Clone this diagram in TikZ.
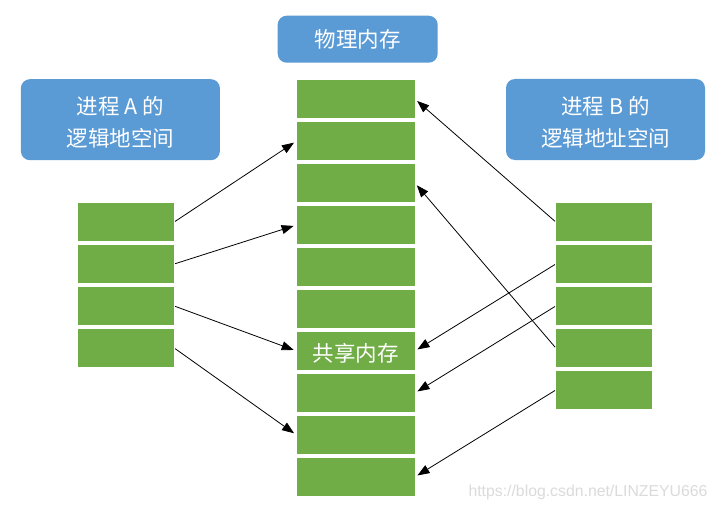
\documentclass[tikz,border=0pt]{standalone}
\usepackage{fontspec}
\newfontfamily\cjk{Noto Sans CJK SC}
\newfontfamily\wmfont{Liberation Sans}
\usetikzlibrary{arrows.meta}
\definecolor{hdrblue}{HTML}{5B9BD5}
\definecolor{cellgreen}{HTML}{70AD47}
\begin{document}
\begin{tikzpicture}[x=1pt,y=-1pt,
  hdr/.style={fill=hdrblue, rounded corners=9pt, draw=none, text=white,
    font=\cjk\fontsize{21.5}{32}\selectfont, align=center, inner sep=0pt},
  mcell/.style={fill=cellgreen, draw=none, minimum width=118pt, minimum height=38pt,
    inner sep=0pt},
  scell/.style={fill=cellgreen, draw=none, minimum width=96pt, minimum height=38pt, inner sep=0pt},
  link/.style={-{Triangle[length=12pt,width=9pt]}, line width=0.8pt, shorten >=3pt, shorten <=1pt}]
\fill[white] (0,0) rectangle (718,511);
\useasboundingbox (0,0) rectangle (718,511);

% headers
\node[hdr, minimum width=160pt, minimum height=47pt] (hphys) at (357.7,39.2) {物理内存};
\node[hdr, minimum width=199pt, minimum height=81pt] (hA) at (120.4,119.7) {};
\node[text=white, font=\cjk\fontsize{21.5}{32}\selectfont, align=center, inner sep=0pt] (tA) at (120.4,122.5) {进程 A 的\\逻辑地空间};
\node[hdr, minimum width=199pt, minimum height=81pt] (hB) at (605.5,119.5) {};
\node[text=white, font=\cjk\fontsize{21.5}{32}\selectfont, align=center, inner sep=0pt] (tB) at (605.5,122.5) {进程 B 的\\逻辑地址空间};

% physical memory column
\foreach \k in {0,...,9} {
  \node[mcell] (M\k) at (355.7,{99+42*\k}) {};
}
\node[text=white, font=\cjk\fontsize{21.5}{24}\selectfont, inner sep=0pt] (shared) at (355.7,353) {共享内存};

% process A column
\foreach \k in {1,...,4} {
  \node[scell] (A\k) at (126,{222+42*(\k-1)}) {};
}
% process B column
\foreach \k in {1,...,5} {
  \node[scell] (B\k) at (604,{222+42*(\k-1)}) {};
}

% arrows from A
\draw[link] (A1.east) -- (M1.west);
\draw[link] (A2.east) -- (M3.west);
\draw[link] (A3.east) -- (M6.west);
\draw[link] (A4.east) -- (M8.west);

% arrows from B
\draw[link] (B1.west) -- (M0.east);
\draw[link] (B2.west) -- (M6.east);
\draw[link] (B3.west) -- (M7.east);
\draw[link] (B4.west) -- (M2.east);
\draw[link] (B5.west) -- (M9.east);

% watermark
\node[text=black!14, font=\wmfont\fontsize{15.8}{18}\selectfont, inner sep=0pt] (wm) at (588,492) {https://blog.csdn.net/LINZEYU666};
\end{tikzpicture}
\end{document}
